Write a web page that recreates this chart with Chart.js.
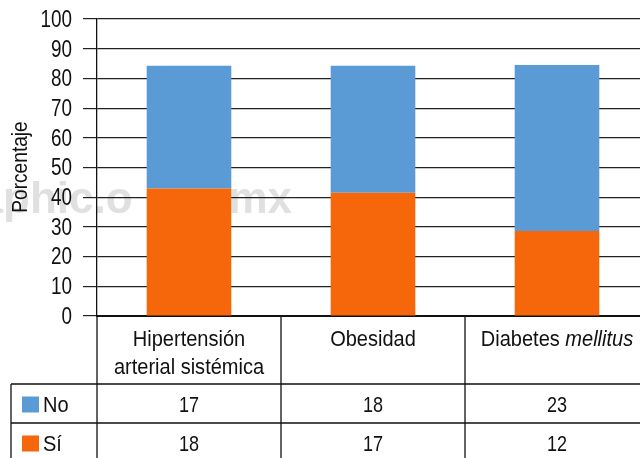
<!DOCTYPE html>
<html>
<head>
<meta charset="utf-8">
<script src="https://cdn.jsdelivr.net/npm/chart.js@4.4.0/dist/chart.umd.min.js"></script>
<style>
  html, body { margin: 0; padding: 0; background: #fff; overflow: hidden; width: 640px; height: 458px; }
  canvas { display: block; }
</style>
</head>
<body>
<canvas id="grafica" width="652" height="458"></canvas>
<script>
// Categorías (líneas del encabezado de la tabla)
const categorias = [['Hipertensión', 'arterial sistémica'], ['Obesidad'], ['Diabetes mellitus']];
const cursivas = ['mellitus'];

// Número de pacientes por grupo
const conteoNo = [17, 18, 23];
const conteoSi = [18, 17, 12];

// Porcentajes de cada barra
const porcentajeSi = [42.9, 41.5, 28.6];
const porcentajeNo = [41.4, 42.8, 55.9];

const ticksY = [0, 10, 20, 30, 40, 50, 60, 70, 80, 90, 100];

const AZUL = '#5b9bd5';
const NARANJA = '#f6670b';
const FUENTE = '"Liberation Sans", Arial, sans-serif';

// Texto con escala horizontal (letra condensada)
function texto(ctx, str, x, y, align, font, escala) {
  ctx.save();
  ctx.font = font;
  ctx.translate(x, y);
  ctx.scale(escala, 1);
  ctx.textAlign = align;
  ctx.fillText(str, 0, 0);
  ctx.restore();
}

function anchoTexto(ctx, str, font, escala) {
  ctx.font = font;
  return ctx.measureText(str).width * escala;
}

// Marca de agua de fondo
const marcaAgua = {
  id: 'marcaAgua',
  beforeDraw(chart) {
    const ctx = chart.ctx;
    ctx.save();
    ctx.font = 'bold 44px "Liberation Sans", Arial, sans-serif';
    ctx.fillStyle = '#e0e0e0';
    ctx.textBaseline = 'alphabetic';
    const previo = ctx.measureText('medigra').width;
    ctx.textAlign = 'left';
    ctx.fillText('medigraphic.o', 3 - previo, 213);
    ctx.textAlign = 'right';
    ctx.fillText('rg.mx', 292, 213);
    ctx.restore();
  }
};

// Tabla de datos, etiquetas del eje y y su título
const tablaDatos = {
  id: 'tablaDatos',
  afterDraw(chart) {
    const ctx = chart.ctx;
    const x = chart.scales.x;
    const y = chart.scales.y;
    const area = chart.chartArea;
    const ancho = x.getPixelForValue(1) - x.getPixelForValue(0);
    const fondo = chart.height;
    const fila1 = 384, fila2 = 423;
    const letra = '22px ' + FUENTE;
    ctx.save();
    ctx.strokeStyle = '#111';
    ctx.lineWidth = 1.3;

    // líneas verticales
    ctx.beginPath();
    ctx.moveTo(area.left, area.bottom);
    ctx.lineTo(area.left, fondo);
    for (let i = 0; i < categorias.length; i++) {
      const xd = x.getPixelForValue(i) + ancho / 2;
      ctx.moveTo(xd, area.bottom);
      ctx.lineTo(xd, fondo);
    }
    ctx.moveTo(11, fila1);
    ctx.lineTo(11, fondo);
    // líneas horizontales
    ctx.moveTo(11, fila1);
    ctx.lineTo(chart.width, fila1);
    ctx.moveTo(11, fila2);
    ctx.lineTo(chart.width, fila2);
    ctx.stroke();

    ctx.fillStyle = '#111';
    ctx.textBaseline = 'alphabetic';

    // encabezados
    categorias.forEach((lineas, i) => {
      const cx = x.getPixelForValue(i);
      lineas.forEach((linea, j) => {
        const yb = 346 + j * 28;
        const partes = linea.split(' ').map((p, k, arr) => ({
          texto: p + (k < arr.length - 1 ? ' ' : ''),
          font: (cursivas.includes(p) ? 'italic ' : '') + letra
        }));
        let total = 0;
        partes.forEach(p => { p.ancho = anchoTexto(ctx, p.texto, p.font, 0.91); total += p.ancho; });
        let px = cx - total / 2;
        partes.forEach(p => {
          texto(ctx, p.texto, px, yb, 'left', p.font, 0.91);
          px += p.ancho;
        });
      });
    });

    // filas de la leyenda y valores
    const filas = [
      { nombre: 'No', color: AZUL, valores: conteoNo, base: 412 },
      { nombre: 'Sí', color: NARANJA, valores: conteoSi, base: 451 }
    ];
    filas.forEach(f => {
      ctx.fillStyle = f.color;
      ctx.fillRect(22, f.base - 15.5, 17, 16);
      ctx.fillStyle = '#111';
      texto(ctx, f.nombre, 43, f.base, 'left', letra, 0.91);
      f.valores.forEach((v, i) => {
        texto(ctx, String(v), x.getPixelForValue(i), f.base, 'center', letra, 0.82);
      });
    });

    // etiquetas del eje y
    ctx.textBaseline = 'middle';
    ticksY.forEach(v => {
      texto(ctx, String(v), 72, y.getPixelForValue(v) + 1.5, 'right', '23px ' + FUENTE, 0.82);
    });

    // título del eje y
    ctx.textBaseline = 'alphabetic';
    ctx.translate(27, 167);
    ctx.rotate(-Math.PI / 2);
    texto(ctx, 'Porcentaje', 0, 0, 'center', letra, 0.87);
    ctx.restore();
  }
};

const ctx = document.getElementById('grafica').getContext('2d');
new Chart(ctx, {
  type: 'bar',
  data: {
    labels: categorias.map(c => c.join(' ')),
    datasets: [
      { label: 'Sí', data: porcentajeSi, backgroundColor: NARANJA, barPercentage: 0.92, categoryPercentage: 0.5 },
      { label: 'No', data: porcentajeNo, backgroundColor: AZUL, barPercentage: 0.92, categoryPercentage: 0.5 }
    ]
  },
  options: {
    responsive: false,
    animation: false,
    layout: { padding: { top: 19, right: 3, left: 0, bottom: 0 } },
    plugins: { legend: { display: false }, tooltip: { enabled: false } },
    scales: {
      x: {
        stacked: true,
        grid: { display: false },
        border: { display: true, color: '#111', width: 2 },
        ticks: { display: false },
        afterFit: s => { s.height = 142; }
      },
      y: {
        stacked: true,
        min: 0,
        max: 100,
        afterBuildTicks: s => { s.ticks = ticksY.map(v => ({ value: v })); },
        grid: { color: '#222', lineWidth: 1.2, tickLength: 14, drawTicks: true },
        border: { display: true, color: '#111', width: 1.3 },
        ticks: { autoSkip: false, padding: 11, color: 'rgba(0,0,0,0)', font: { family: FUENTE, size: 8 } },
        afterFit: s => { s.width = 97; }
      }
    }
  },
  plugins: [marcaAgua, tablaDatos]
});
</script>
</body>
</html>
